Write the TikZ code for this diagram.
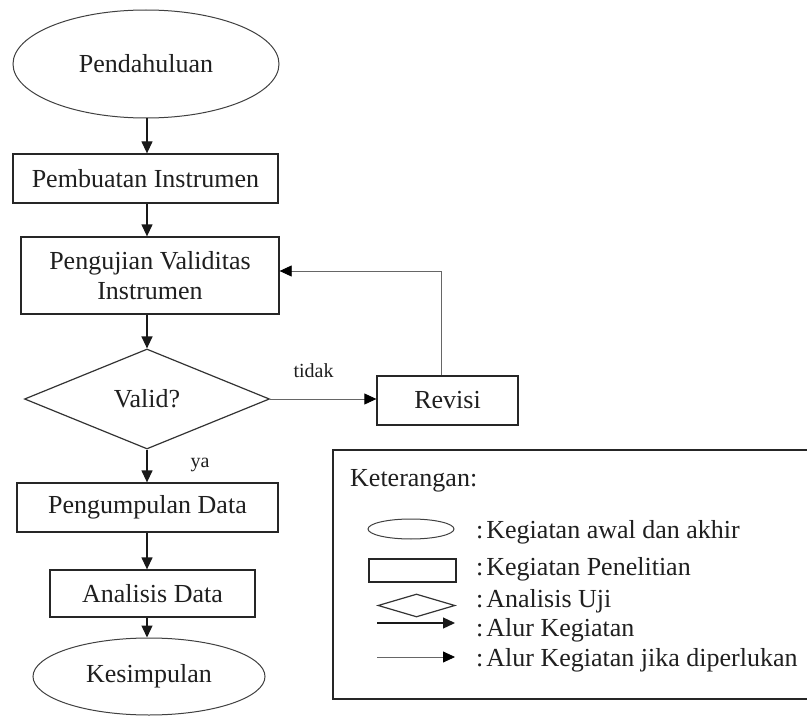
\documentclass[tikz,border=0pt]{standalone}
\usepackage{fontspec}
\setmainfont{Liberation Serif}
\usetikzlibrary{shapes.geometric,arrows.meta}
\begin{document}
\begin{tikzpicture}[x=1pt,y=-1pt,
  every node/.style={font=\fontsize{26}{30}\selectfont, text=black!88},
  procbox/.style={draw=black!85, line width=1.3pt, rectangle, inner sep=0pt, align=center},
  term/.style={draw=black!75, line width=1pt, ellipse, inner sep=0pt},
  decide/.style={draw=black!80, line width=1.2pt, diamond, inner sep=0pt},
  flow/.style={draw=black!90, line width=1.3pt, -{Triangle[length=12pt,width=11pt]}},
  optflow/.style={draw=black!60, line width=0.8pt, -{Triangle[length=12pt,width=11pt,fill=black,color=black]}},
  small/.style={font=\fontsize{20}{24}\selectfont},
  legtext/.style={anchor=base west, inner sep=0pt}
]
\useasboundingbox (0,0) rectangle (807,725);
\fill[white] (0,0) rectangle (807,725);

% main flow
\node[term, minimum width=266pt, minimum height=108pt] (pend) at (146,64) {Pendahuluan};
\node[procbox, minimum width=265pt, minimum height=49pt] (buat) at (145.5,178.5) {Pembuatan Instrumen};
\node[procbox, minimum width=258pt, minimum height=77pt] (uji) at (150,275.5) {Pengujian Validitas\\Instrumen};
\node[decide, minimum width=245pt, minimum height=100pt] (valid) at (147,399) {Valid?};
\node[procbox, minimum width=141pt, minimum height=49pt] (rev) at (447.5,400.5) {Revisi};
\node[procbox, minimum width=261pt, minimum height=49pt] (kumpul) at (147.5,507.5) {Pengumpulan Data};
\node[procbox, minimum width=205pt, minimum height=47pt] (ana) at (152.5,593.5) {Analisis Data};
\node[term, minimum width=232pt, minimum height=77pt] (kes) at (149,676.5) {Kesimpulan};

\coordinate (col) at (147,0);
\draw[flow] (pend.south -| col) -- (buat.north -| col);
\draw[flow] (buat.south -| col) -- (uji.north -| col);
\draw[flow] (uji.south -| col) -- (valid.north);
\draw[flow] (valid.south) -- (kumpul.north -| col);
\draw[flow] (kumpul.south -| col) -- (ana.north -| col);
\draw[flow] (ana.south -| col) -- (kes.north -| col);

\draw[optflow] (valid.east) -- (valid.east -| rev.west);
\coordinate (turn) at (441,271);
\draw[optflow] (rev.north -| turn) -- (turn) -- (turn -| uji.east);

\node[small, anchor=base] (tidak) at (313.5,377) {tidak};
\node[small, anchor=base] (ya) at (200,467) {ya};

% legend
\draw[draw=black!85, line width=1.6pt] (807,450) -- (333,450) -- (333,699) -- (807,699);
\node[anchor=base west, inner sep=0pt] (ket) at (350,486) {Keterangan:};

\node[term, minimum width=86pt, minimum height=20pt] (lell) at (411,529) {};
\node[procbox, minimum width=87pt, minimum height=23pt] (lrect) at (412.5,570.5) {};
\node[decide, minimum width=77pt, minimum height=23pt] (ldia) at (416.5,605.5) {};
\coordinate (la1) at (377,623);
\coordinate (la2) at (455,623);
\coordinate (lb1) at (377,657);
\coordinate (lb2) at (455,657);
\draw[flow] (la1) -- (la2);
\draw[optflow] (lb1) -- (lb2);

\node[legtext] (t1) at (476,538) {:\hspace{3pt}Kegiatan awal dan akhir};
\node[legtext] (t2) at (476,575) {:\hspace{3pt}Kegiatan Penelitian};
\node[legtext] (t3) at (476,607) {:\hspace{3pt}Analisis Uji};
\node[legtext] (t4) at (476,636) {:\hspace{3pt}Alur Kegiatan};
\node[legtext] (t5) at (476,666) {:\hspace{3pt}Alur Kegiatan jika diperlukan};
\end{tikzpicture}
\end{document}
